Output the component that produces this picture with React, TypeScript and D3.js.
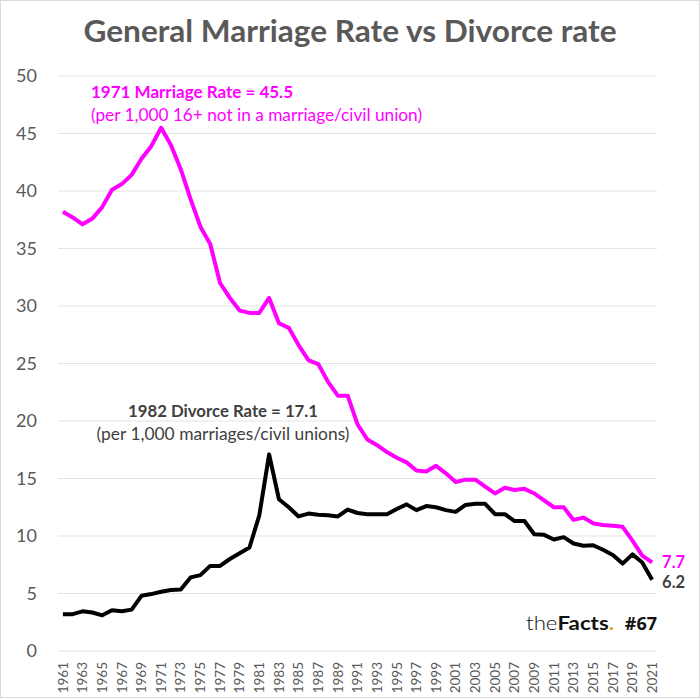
import * as d3 from 'd3';

const years = d3.range(1961, 2022);

// marriage rate per 1,000 16+ not in a marriage/civil union
const marriageRate = [
  38.2, 37.7, 37.1, 37.6, 38.6, 40.1, 40.6, 41.4, 42.8, 43.9,
  45.5, 44.0, 41.9, 39.3, 36.9, 35.4, 32.0, 30.7, 29.6, 29.4,
  29.4, 30.7, 28.5, 28.1, 26.6, 25.3, 24.95, 23.4, 22.2, 22.2,
  19.7, 18.4, 17.9, 17.3, 16.8, 16.4, 15.7, 15.6, 16.1, 15.45,
  14.7, 14.9, 14.9, 14.3, 13.7, 14.2, 14.0, 14.1, 13.7, 13.1,
  12.5, 12.5, 11.4, 11.6, 11.1, 10.95, 10.9, 10.8, 9.6, 8.3,
  7.7
];

// divorce rate per 1,000 marriages/civil unions
const divorceRate = [
  3.2, 3.2, 3.45, 3.35, 3.1, 3.55, 3.45, 3.6, 4.8, 4.95,
  5.15, 5.3, 5.35, 6.4, 6.6, 7.4, 7.4, 8.0, 8.5, 9.0,
  11.8, 17.1, 13.2, 12.5, 11.7, 11.95, 11.85, 11.8, 11.7, 12.3,
  12.0, 11.9, 11.9, 11.9, 12.35, 12.75, 12.25, 12.6, 12.5, 12.25,
  12.1, 12.7, 12.8, 12.8, 11.9, 11.9, 11.3, 11.3, 10.15, 10.1,
  9.7, 9.9, 9.35, 9.15, 9.2, 8.8, 8.35, 7.6, 8.4, 7.7,
  6.2
];

const yTicks = d3.range(0, 51, 5);
const xTickYears = years.filter((y) => (y - 1961) % 2 === 0);

const W = 700;
const H = 698;
const font = "Lato, 'Open Sans', sans-serif";
const grey = '#595959';
const dark = '#404040';
const pink = '#ff00ff';

export default function App() {
  const x = d3.scaleBand<number>().domain(years).range([58, 657]);
  const cx = (yr: number) => (x(yr) ?? 0) + x.bandwidth() / 2;
  const y = d3.scaleLinear().domain([0, 50]).range([651, 76]);

  const line = d3
    .line<number>()
    .x((_, i) => cx(years[i]))
    .y((d) => y(d));

  const lastYear = years[years.length - 1];
  const lastM = marriageRate[marriageRate.length - 1];
  const lastD = divorceRate[divorceRate.length - 1];

  return (
    <svg
      width={W}
      height={H}
      style={{ position: 'absolute', left: 0, top: 0, background: '#fff' }}
      fontFamily={font}
    >
      <rect x={0.5} y={0.5} width={W - 1} height={H - 1} fill="#fff" stroke="#d9d9d9" />

      <text
        x={350}
        y={42}
        textAnchor="middle"
        fontSize={31}
        fontWeight="bold"
        fill={grey}
        textLength={533}
        lengthAdjust="spacingAndGlyphs"
      >
        General Marriage Rate vs Divorce rate
      </text>

      {/* gridlines + y labels */}
      {yTicks.map((t) => (
        <g key={t}>
          <line x1={58} x2={657} y1={y(t)} y2={y(t)} stroke="#e3e3e3" strokeWidth={1.2} />
          <text x={37} y={y(t)} dy="0.36em" textAnchor="end" fontSize={18} fill={grey}>
            {t}
          </text>
        </g>
      ))}

      {/* x labels */}
      {xTickYears.map((yr) => (
        <text
          key={yr}
          transform={`translate(${cx(yr)},662) rotate(-90)`}
          dy="0.35em"
          textAnchor="end"
          fontSize={13.5}
          fill={grey}
        >
          {yr}
        </text>
      ))}

      <path d={line(divorceRate) ?? ''} fill="none" stroke="#000" strokeWidth={4} strokeLinejoin="round" />
      <path d={line(marriageRate) ?? ''} fill="none" stroke={pink} strokeWidth={4} strokeLinejoin="round" />

      {/* annotations */}
      <text x={91} y={98} fontSize={17} fontWeight="bold" fill={pink} textLength={202} lengthAdjust="spacingAndGlyphs">
        1971 Marriage Rate = 45.5
      </text>
      <text x={91} y={121} fontSize={17} fill={pink} textLength={331} lengthAdjust="spacingAndGlyphs">
        (per 1,000 16+ not in a marriage/civil union)
      </text>

      <text x={223} y={417} textAnchor="middle" fontSize={17} fontWeight="bold" fill={dark} textLength={190} lengthAdjust="spacingAndGlyphs">
        1982 Divorce Rate = 17.1
      </text>
      <text x={223} y={440} textAnchor="middle" fontSize={17} fill={dark} textLength={253} lengthAdjust="spacingAndGlyphs">
        (per 1,000 marriages/civil unions)
      </text>

      {/* end labels */}
      <text x={cx(lastYear) + 10} y={y(lastM) + 6} fontSize={16.5} fontWeight="bold" fill={pink}>
        {lastM}
      </text>
      <text x={cx(lastYear) + 10} y={y(lastD) + 8} fontSize={16.5} fontWeight="bold" fill={dark}>
        {lastD}
      </text>

      {/* logo */}
      <text x={526} y={630} fontSize={19} fill="#111" textLength={88} lengthAdjust="spacingAndGlyphs">
        <tspan fontWeight="300">the</tspan>
        <tspan fontWeight="bold">Facts</tspan>
        <tspan fontWeight="bold" fill="#f7941d">.</tspan>
      </text>
      <text x={657} y={630} textAnchor="end" fontSize={18} fontWeight="bold" fill="#111" fontFamily="'Open Sans', sans-serif">
        #67
      </text>
    </svg>
  );
}
